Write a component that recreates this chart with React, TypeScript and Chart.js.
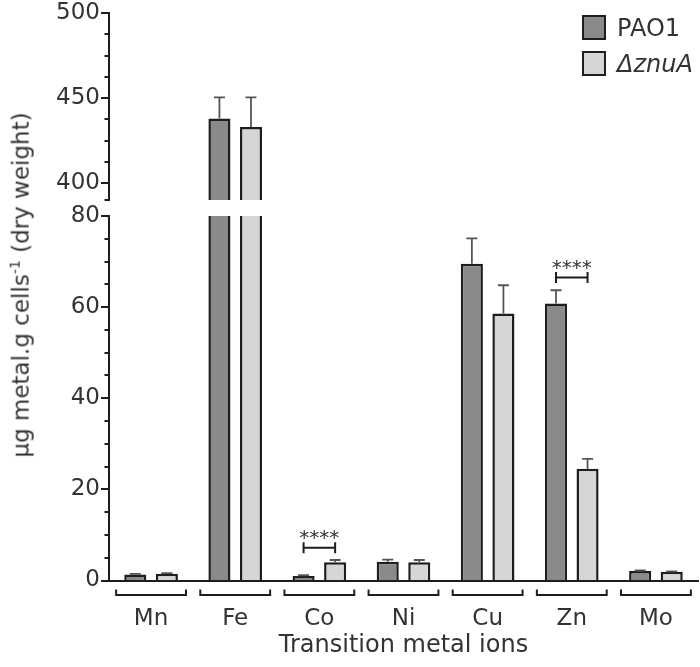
import React, { useEffect, useRef } from 'react';
import { Chart, registerables } from 'chart.js';

Chart.register(...registerables);

// ---------------- data ----------------
const categories = ['Mn', 'Fe', 'Co', 'Ni', 'Cu', 'Zn', 'Mo'];
const seriesNames = ['PAO1', 'ΔznuA'];
const pao1Values = [1.3, 438, 1.0, 4.1, 69.5, 60.8, 2.1];
const pao1Errors = [0.15, 12.4, 0.15, 0.5, 5.6, 2.9, 0.1];
const znuAValues = [1.5, 433, 4.0, 4.0, 58.6, 24.5, 1.9];
const znuAErrors = [0.1, 17.4, 0.5, 0.5, 6.2, 2.2, 0.1];

// broken y axis: lower and upper segments
const lowerRange = [0, 80];
const upperRange = [390, 500];
const lowerTickValues = [0, 5, 10, 15, 20, 25, 30, 35, 40, 45, 50, 55, 60, 65, 70, 75, 80];
const lowerTickLabels = [0, 20, 40, 60, 80];
const upperTickValues = [390, 400, 412.5, 425, 437.5, 450, 462.5, 475, 487.5, 500];
const upperTickLabels = [400, 450, 500];

// significance annotations
const sigCategories = ['Co', 'Zn'];
const sigHeights = [7.2, 66.5];
const sigLabels = ['****', '****'];

const yTitle = 'µg metal.g cells';
const yTitleSup = '-1';
const yTitleEnd = ' (dry weight)';
const xTitle = 'Transition metal ions';

// ---------------- styles ----------------
const FONT = "'DejaVu Sans', sans-serif";
const WEIGHT = 400;
const TEXT = '#333333';
const LINE = '#1e1e1e';
const DARK = '#8a8a8a';
const LIGHT = '#d6d6d6';
const ERR = '#555555';

const valueArrays = [pao1Values, znuAValues];
const errorArrays = [pao1Errors, znuAErrors];

const tickMarksPlugin = {
  id: 'tickMarks',
  afterDraw(chart: any, _args: any, opts: any) {
    const s = chart.scales.y;
    const ctx = chart.ctx;
    ctx.save();
    ctx.strokeStyle = LINE;
    ctx.lineWidth = 2;
    ctx.beginPath();
    for (const t of s.ticks) {
      const y = Math.round(s.getPixelForValue(t.value));
      const len = opts.majors.includes(t.value) ? 8 : 4.5;
      ctx.moveTo(s.right - len, y);
      ctx.lineTo(s.right, y);
    }
    ctx.stroke();
    ctx.restore();
  },
};

const errorBarsPlugin = {
  id: 'errorBars',
  afterDatasetsDraw(chart: any) {
    const ctx = chart.ctx;
    const ys = chart.scales.y;
    const area = chart.chartArea;
    ctx.save();
    ctx.beginPath();
    ctx.rect(area.left, area.top - 1, area.right - area.left, area.bottom - area.top + 1);
    ctx.clip();
    ctx.strokeStyle = ERR;
    ctx.lineWidth = 1.8;
    for (let d = 0; d < 2; d++) {
      const meta = chart.getDatasetMeta(d);
      meta.data.forEach((bar: any, i: number) => {
        const v = chart.data.datasets[d].data[i];
        if (v === null || v === undefined) return;
        const top = ys.getPixelForValue(valueArrays[d][i] + errorArrays[d][i]);
        ctx.beginPath();
        ctx.moveTo(bar.x, bar.y);
        ctx.lineTo(bar.x, top);
        ctx.moveTo(bar.x - 5.5, top);
        ctx.lineTo(bar.x + 5.5, top);
        ctx.stroke();
      });
    }
    ctx.restore();
  },
};

const annotationsPlugin = {
  id: 'annotations',
  afterDraw(chart: any) {
    const ctx = chart.ctx;
    const xs = chart.scales.x;
    const ys = chart.scales.y;
    const area = chart.chartArea;
    ctx.save();
    ctx.strokeStyle = LINE;
    ctx.lineWidth = 2;
    // category brackets under the axis
    const catW = (area.right - area.left) / categories.length;
    const half = catW * 0.415;
    const y0 = area.bottom + 9;
    const y1 = area.bottom + 14.5;
    categories.forEach((_c, i) => {
      const cx = xs.getPixelForValue(i);
      ctx.beginPath();
      ctx.moveTo(cx - half, y0);
      ctx.lineTo(cx - half, y1);
      ctx.lineTo(cx + half, y1);
      ctx.lineTo(cx + half, y0);
      ctx.stroke();
    });
    // significance brackets
    const m0 = chart.getDatasetMeta(0);
    const m1 = chart.getDatasetMeta(1);
    ctx.fillStyle = TEXT;
    ctx.font = `20px ${FONT}`;
    ctx.textAlign = 'center';
    ctx.textBaseline = 'alphabetic';
    sigCategories.forEach((c, k) => {
      const i = categories.indexOf(c);
      const xa = m0.data[i].x;
      const xb = m1.data[i].x;
      const y = ys.getPixelForValue(sigHeights[k]);
      ctx.beginPath();
      ctx.moveTo(xa, y);
      ctx.lineTo(xb, y);
      ctx.moveTo(xa, y - 5.5);
      ctx.lineTo(xa, y + 5.5);
      ctx.moveTo(xb, y - 5.5);
      ctx.lineTo(xb, y + 5.5);
      ctx.stroke();
      ctx.fillText(sigLabels[k], (xa + xb) / 2, y - 4);
    });
    ctx.restore();
  },
};

function yScale(range: number[], tickValues: number[], tickLabels: number[]) {
  return {
    min: range[0],
    max: range[1],
    afterBuildTicks: (s: any) => {
      s.ticks = tickValues.map((v) => ({ value: v }));
    },
    afterFit: (s: any) => {
      s.width = 109;
    },
    grid: {
      drawOnChartArea: false,
      drawTicks: true,
      tickLength: 8,
      tickColor: 'rgba(0,0,0,0)',
    },
    border: { display: true, color: LINE, width: 2 },
    ticks: {
      autoSkip: false,
      padding: 1,
      color: TEXT,
      font: { family: FONT, size: 23, weight: WEIGHT, lineHeight: 1 },
      callback: (v: any) => (tickLabels.includes(v) ? String(v) : ''),
    },
  };
}

function datasets(filterMin: number | null) {
  const colors = [DARK, LIGHT];
  return valueArrays.map((vals, d) => ({
    label: seriesNames[d],
    data: filterMin === null ? vals : vals.map((v) => (v > filterMin ? v : null)),
    backgroundColor: colors[d],
    borderColor: LINE,
    borderWidth: 2.5,
    borderSkipped: 'start',
    clip: 0,
    categoryPercentage: 0.75,
    barPercentage: 0.7,
  }));
}

export default function App() {
  const topRef = useRef<HTMLCanvasElement>(null);
  const botRef = useRef<HTMLCanvasElement>(null);

  useEffect(() => {
    const top = new Chart(topRef.current as HTMLCanvasElement, {
      type: 'bar',
      data: { labels: categories, datasets: datasets(upperRange[0]) as any },
      options: {
        responsive: false,
        animation: false,
        layout: { padding: { top: 13, bottom: 15, left: 0, right: 2 } },
        plugins: {
          legend: { display: false },
          tooltip: { enabled: false },
          tickMarks: { majors: upperTickLabels },
        } as any,
        scales: {
          x: { display: false },
          y: yScale(upperRange, upperTickValues, upperTickLabels) as any,
        },
      },
      plugins: [tickMarksPlugin, errorBarsPlugin],
    });

    const bottom = new Chart(botRef.current as HTMLCanvasElement, {
      type: 'bar',
      data: { labels: categories, datasets: datasets(null) as any },
      options: {
        responsive: false,
        animation: false,
        layout: { padding: { top: 36, bottom: 0, left: 0, right: 2 } },
        plugins: {
          legend: { display: false },
          tooltip: { enabled: false },
          tickMarks: { majors: lowerTickLabels },
        } as any,
        scales: {
          x: {
            afterFit: (s: any) => {
              s.height = 86.5;
            },
            grid: { display: false, drawTicks: false },
            border: { display: true, color: LINE, width: 2 },
            ticks: {
              padding: 25,
              color: TEXT,
              font: { family: FONT, size: 23, weight: WEIGHT },
            },
            title: {
              display: true,
              text: xTitle,
              color: TEXT,
              font: { family: FONT, size: 24, weight: WEIGHT },
              padding: { top: 0, bottom: 7 },
            },
          },
          y: yScale(lowerRange, lowerTickValues, lowerTickLabels) as any,
        },
      },
      plugins: [tickMarksPlugin, errorBarsPlugin, annotationsPlugin],
    });

    return () => {
      top.destroy();
      bottom.destroy();
    };
  }, []);

  const legendRow = (i: number, color: string, top: number) => (
    <div
      key={i}
      style={{ position: 'absolute', left: 582, top, height: 25, display: 'flex', alignItems: 'center' }}
    >
      <div
        style={{
          width: 20,
          height: 21,
          background: color,
          border: `2px solid ${LINE}`,
        }}
      />
      <span
        style={{
          marginLeft: 11,
          fontFamily: FONT,
          fontWeight: WEIGHT,
          fontSize: 24,
          color: TEXT,
          fontStyle: i === 1 ? 'italic' : 'normal',
          whiteSpace: 'nowrap',
        }}
      >
        {seriesNames[i]}
      </span>
    </div>
  );

  return (
    <div style={{ position: 'absolute', left: 0, top: 0, width: 700, height: 667, background: '#fff' }}>
      <canvas
        ref={topRef}
        width={700}
        height={215}
        style={{ position: 'absolute', left: 0, top: 0, display: 'block' }}
      />
      <canvas
        ref={botRef}
        width={700}
        height={487}
        style={{ position: 'absolute', left: 0, top: 180, display: 'block' }}
      />
      <div
        style={{
          position: 'absolute',
          left: 20,
          top: 285,
          transform: 'translate(-50%, -50%) rotate(-90deg)',
          fontFamily: FONT,
          fontWeight: WEIGHT,
          fontSize: 23,
          color: TEXT,
          whiteSpace: 'nowrap',
          lineHeight: 1,
        }}
      >
        {yTitle}
        <sup style={{ fontSize: 14 }}>{yTitleSup}</sup>
        {yTitleEnd}
      </div>
      {legendRow(0, DARK, 15)}
      {legendRow(1, LIGHT, 51)}
    </div>
  );
}
